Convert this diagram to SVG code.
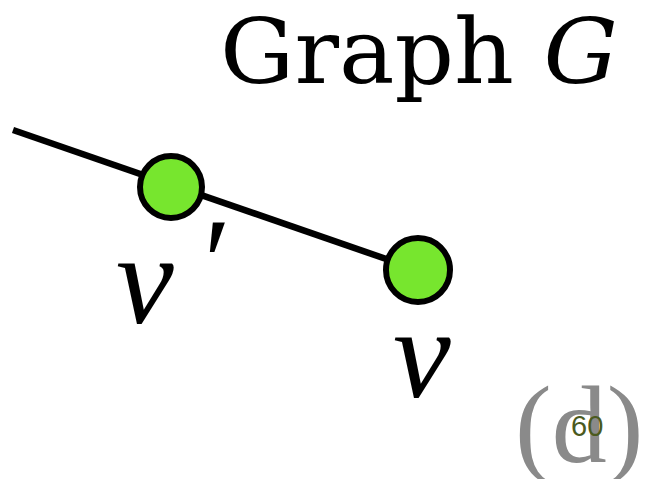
<svg xmlns="http://www.w3.org/2000/svg" width="648" height="479" viewBox="0 0 648 479">
<style>
.node{fill:#77e62e;stroke:#000;stroke-width:6}
.edge{stroke:#000;stroke-width:6.5;fill:none}
.lbl{font-family:"Liberation Serif",serif;font-style:italic;fill:#000}
</style>
<rect width="648" height="479" fill="#fff"/>
<text x="220" y="83" font-family="DejaVu Serif, serif" font-size="90" fill="#000" textLength="398" lengthAdjust="spacingAndGlyphs">Graph <tspan font-style="italic">G</tspan></text>
<g id="edges">
<line class="edge" x1="13" y1="130" x2="418" y2="270"/>
</g>
<g id="v-prime">
<circle class="node" cx="171" cy="187" r="31"/>
<text class="lbl" x="116" y="323" font-size="130">v</text>
<text class="lbl" x="196" y="305" font-size="125">′</text>
</g>
<g id="v">
<circle class="node" cx="418" cy="270" r="32"/>
<text class="lbl" x="393" y="397" font-size="130">v</text>
</g>
<text x="515" y="462" font-family="Liberation Serif, serif" font-size="110" fill="#8a8a8a">(d)</text>
<text x="571" y="436" font-family="Liberation Sans, sans-serif" font-size="29" fill="#4b5a1e">60</text>
</svg>
